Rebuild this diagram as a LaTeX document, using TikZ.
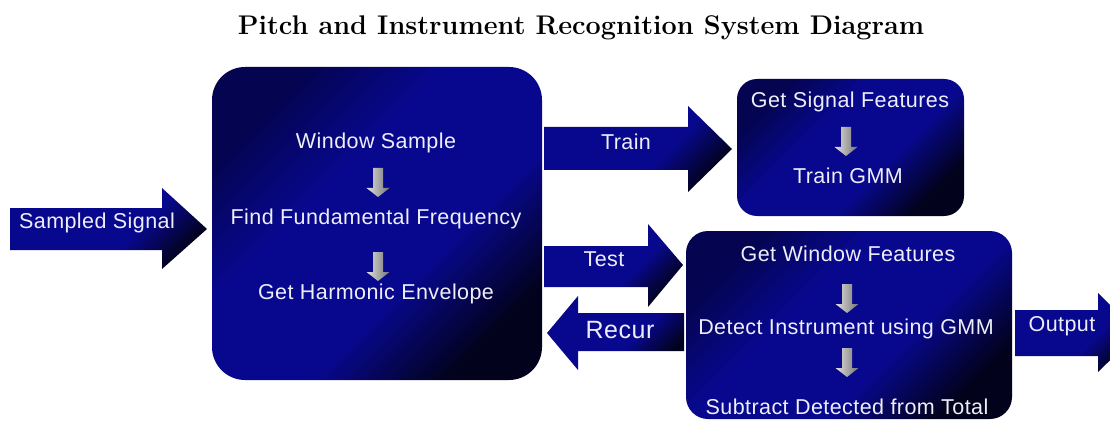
\documentclass[tikz,border=0pt]{standalone}
\usepackage{fontspec}
\newfontfamily\arialf[LetterSpace=2]{Liberation Sans}
\definecolor{midb}{RGB}{8,8,142}
\definecolor{semib}{RGB}{4,4,80}
\definecolor{darkb}{RGB}{2,2,28}
\definecolor{txtc}{RGB}{238,238,250}
\pgfdeclarehorizontalshading{boxsh}{100bp}{color(0bp)=(semib); color(25bp)=(semib); color(40bp)=(midb); color(60bp)=(midb); color(75bp)=(darkb); color(100bp)=(darkb)}
\pgfdeclarehorizontalshading{arrsh}{100bp}{color(0bp)=(midb); color(25bp)=(midb); color(58bp)=(midb); color(75bp)=(darkb); color(100bp)=(darkb)}
\tikzset{
  bluebox/.style={shading=boxsh, shading angle=-45, rounded corners=#1},
  bluearrow/.style={shading=arrsh, shading angle=-45},
  garrowst/.style={left color=black!12, right color=black!55},
  lbl/.style={text=txtc, font=\arialf\fontsize{21.5}{24}\selectfont, inner sep=0pt},
  title/.style={font=\fontsize{27}{31}\selectfont\bfseries, inner sep=0pt}
}
\newcommand\grayarrow[2]{\path[garrowst] (#1-5,#2) -- (#1+5,#2) -- (#1+5,#2+20) -- (#1+11.5,#2+20) -- (#1,#2+29) -- (#1-11.5,#2+20) -- (#1-5,#2+20) -- cycle;}
\begin{document}
\begin{tikzpicture}[x=1pt,y=-1pt]
\useasboundingbox (0,0) rectangle (1110,422);
\clip (0,0) rectangle (1110,422);
% title
\node[title] (title) at (581,28) {Pitch and Instrument Recognition System Diagram};
% sampled signal arrow
\path[bluearrow] (10,208) -- (162,208) -- (162,188) -- (207,229) -- (162,269) -- (162,250) -- (10,250) -- cycle;
\node[lbl] (samp) at (97,223) {Sampled Signal};
% main box
\path[bluebox=33pt] (212,67) rectangle (542,380);
\node[lbl] (ws) at (376,143) {Window Sample};
\grayarrow{378}{168}
\node[lbl] (fff) at (376,219) {Find Fundamental Frequency};
\grayarrow{378}{252}
\node[lbl] (ghe) at (376,294) {Get Harmonic Envelope};
% train arrow
\path[bluearrow] (544,127) -- (688,127) -- (688,106) -- (732,149) -- (688,192) -- (688,170) -- (544,170) -- cycle;
\node[lbl] (train) at (626,142) {Train};
% top-right box
\path[bluebox=20pt] (737,79) rectangle (964,216);
\node[lbl] (gsf) at (850,102) {Get Signal Features};
\grayarrow{846}{127}
\node[lbl] (tg) at (848,176) {Train GMM};
% test arrow
\path[bluearrow] (544,246) -- (648,246) -- (648,224) -- (683,265) -- (648,307) -- (648,287) -- (544,287) -- cycle;
\node[lbl] (test) at (604,259) {Test};
% recur arrow
\path[bluearrow] (684,313) -- (578,313) -- (578,296) -- (547,333) -- (578,370) -- (578,351) -- (684,351) -- cycle;
\node[lbl, font=\arialf\fontsize{25}{28}\selectfont] (recur) at (620,330) {Recur};
% bottom-right box
\path[bluebox=22pt] (686,231) rectangle (1012,419);
\node[lbl] (gwf) at (848,254) {Get Window Features};
\grayarrow{847}{284}
\node[lbl] (dig) at (846,329) {Detect Instrument using GMM};
\grayarrow{847}{348}
\node[lbl] (sdt) at (847,407) {Subtract Detected from Total};
% output arrow
\path[bluearrow] (1015,310) -- (1098,310) -- (1098,293) -- (1138,333) -- (1098,372) -- (1098,356) -- (1015,356) -- cycle;
\node[lbl] (out) at (1062,326) {Output};
\end{tikzpicture}
\end{document}
